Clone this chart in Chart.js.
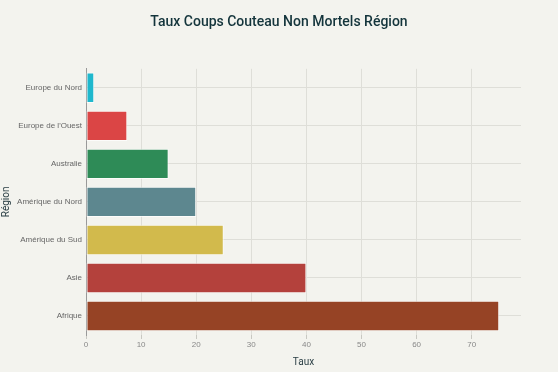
<!DOCTYPE html>
<html><head><meta charset="utf-8">
<script src="https://cdn.jsdelivr.net/npm/chart.js@4"></script>
<style>html,body{margin:0;padding:0;background:#F3F3EE;}#wrap{width:558px;height:372px;}</style>
</head><body><div id="wrap"><canvas id="c" width="558" height="372"></canvas></div>
<script>
const categories = ['Europe du Nord', "Europe de l'Ouest", 'Australie', 'Amérique du Nord', 'Amérique du Sud', 'Asie', 'Afrique'];
const values = [1.5, 7.5, 15, 20, 25, 40, 75];
const barColors = ['#1FB8CD', '#DB4545', '#2E8B57', '#5D878F', '#D2BA4C', '#B4413C', '#964325'];
const xTicks = [0, 10, 20, 30, 40, 50, 60, 70];
const xMax = 78.95;
const FONT = '"Liberation Sans", Arial, sans-serif';
const TITLE_FONT = 'Roboto, "Liberation Sans", sans-serif';

new Chart(document.getElementById('c'), {
  type: 'bar',
  data: { labels: categories, datasets: [{ data: values, backgroundColor: barColors, borderColor: 'rgba(255,255,255,0.7)', borderWidth: 1, borderSkipped: false, categoryPercentage: 1, barPercentage: 0.8 }] },
  options: {
    indexAxis: 'y', responsive: false, animation: false,
    layout: { padding: 0 },
    plugins: {
      legend: { display: false }, tooltip: { enabled: false },
      title: { display: true, text: 'Taux Coups Couteau Non Mortels Région', color: '#13343B', font: { family: TITLE_FONT, size: 14, weight: '500' }, padding: { top: 14, bottom: 38 } }
    },
    scales: {
      x: {
        min: 0, max: xMax,
        afterBuildTicks: (ax) => { ax.ticks = xTicks.map(v => ({ value: v })); },
        afterFit: (s) => { s.height = 37; },
        border: { display: false },
        grid: { color: '#DEDED8', tickLength: 4, tickColor: '#C8C8C2' },
        ticks: { color: '#888', font: { family: FONT, size: 8 }, padding: 1 },
        title: { display: true, text: 'Taux', color: '#2C4046', font: { family: TITLE_FONT, size: 10 }, padding: { top: 4, bottom: 4 } }
      },
      y: {
        afterFit: (s) => { s.width = 86; },
        border: { display: true, color: '#999', width: 1 },
        grid: { offset: false, color: '#DEDED8', drawTicks: false },
        ticks: { color: '#666', font: { family: FONT, size: 8 }, padding: 4 },
        title: { display: true, text: 'Région', color: '#2C4046', font: { family: TITLE_FONT, size: 10 }, padding: { top: 0, bottom: 0 } }
      },
      yR: {
        type: 'category', position: 'right', labels: categories,
        afterFit: (s) => { s.width = 37; },
        border: { display: false }, grid: { display: false, drawTicks: false },
        ticks: { display: false }
      }
    }
  }
});
</script></body></html>
